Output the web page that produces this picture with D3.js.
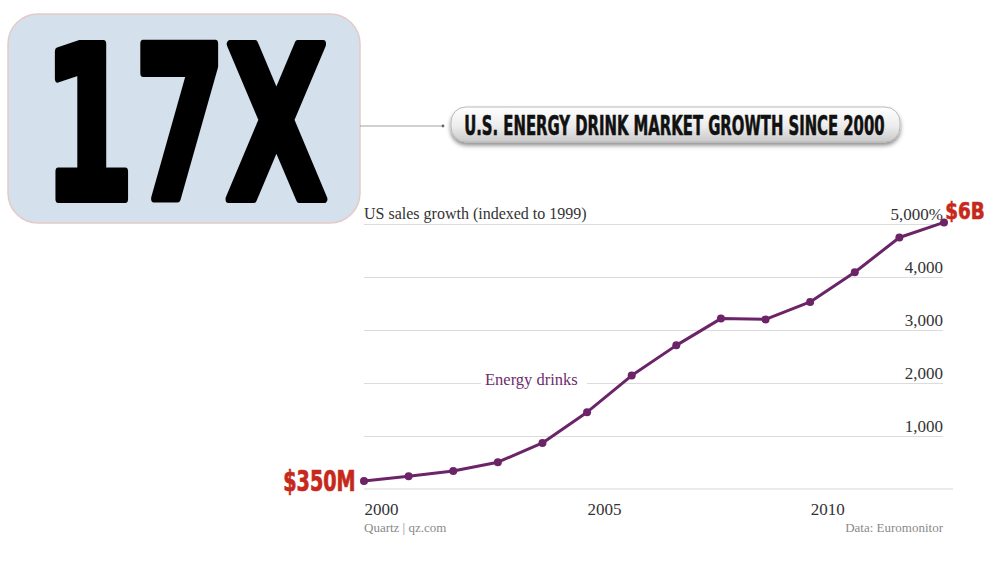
<!DOCTYPE html>
<html>
<head>
<meta charset="utf-8">
<script src="https://cdn.jsdelivr.net/npm/d3@7"></script>
<style>
  html, body { margin: 0; padding: 0; background: #fff; }
  svg { display: block; }
</style>
</head>
<body>
<svg width="1000" height="562"></svg>
<script>
// 数据：能量饮料美国销售增长（1999 = 100 指数）
var years = [2000, 2001, 2002, 2003, 2004, 2005, 2006, 2007, 2008, 2009, 2010, 2011, 2012, 2013];
var growth = [150, 240, 340, 505, 870, 1450, 2140, 2710, 3215, 3200, 3530, 4090, 4745, 5030];
var yTicks = [1000, 2000, 3000, 4000, 5000];
var xTicks = [2000, 2005, 2010];

var points = years.map(function (d, i) {
  return { year: d, value: growth[i] };
});

var serif = "'Liberation Serif', 'DejaVu Serif', serif";
var narrow = "'Liberation Sans Narrow', 'DejaVu Sans Condensed', 'Liberation Sans', sans-serif";
var purple = "#6b2468";
var red = "#c6291c";

var svg = d3.select("svg");

// 把粗体窄字压到指定宽度（用 transform 缩放，不用 textLength）
function fitText(g, str, x0, width, baseline, size, color, strokeW) {
  var t = g.append("text")
    .attr("x", 0).attr("y", 0)
    .attr("font-family", narrow)
    .attr("font-weight", "bold")
    .attr("font-size", size)
    .attr("fill", color)
    .attr("stroke", color)
    .attr("stroke-width", strokeW)
    .attr("stroke-linejoin", "round")
    .text(str);
  var w = t.node().getComputedTextLength() + strokeW;
  var sx = width / w;
  t.attr("transform", "translate(" + (x0 + strokeW / 2 * sx) + "," + baseline + ") scale(" + sx + ",1)");
  return t;
}

var defs = svg.append("defs");
var grad = defs.append("linearGradient")
  .attr("id", "pillGrad")
  .attr("x1", 0).attr("y1", 0).attr("x2", 0).attr("y2", 1);
grad.append("stop").attr("offset", "0%").attr("stop-color", "#ffffff");
grad.append("stop").attr("offset", "55%").attr("stop-color", "#ececec");
grad.append("stop").attr("offset", "100%").attr("stop-color", "#c9c9c9");

var shadow = defs.append("filter").attr("id", "pillShadow")
  .attr("x", "-10%").attr("y", "-30%").attr("width", "120%").attr("height", "180%");
shadow.append("feDropShadow")
  .attr("dx", 0).attr("dy", 3).attr("stdDeviation", 2.2)
  .attr("flood-color", "#000").attr("flood-opacity", 0.45);

// 左上角的 17X 方框
svg.append("rect")
  .attr("x", 8).attr("y", 14)
  .attr("width", 352).attr("height", 209)
  .attr("rx", 30)
  .attr("fill", "#d4e1ed")
  .attr("stroke", "#e6c9c5")
  .attr("stroke-width", 1.5);

fitText(svg, "17X", 40, 290, 198.5, 213, "#000", 8);

// 连接线
svg.append("line")
  .attr("x1", 360).attr("y1", 126)
  .attr("x2", 443).attr("y2", 126)
  .attr("stroke", "#8a8a8a")
  .attr("stroke-width", 0.8);
svg.append("circle")
  .attr("cx", 443).attr("cy", 126).attr("r", 1.4)
  .attr("fill", "#666");

// 标题药丸
svg.append("rect")
  .attr("x", 451).attr("y", 107)
  .attr("width", 449).attr("height", 35)
  .attr("rx", 15)
  .attr("fill", "url(#pillGrad)")
  .attr("stroke", "#b9b9b9")
  .attr("stroke-width", 1)
  .attr("filter", "url(#pillShadow)");

fitText(svg, "U.S. ENERGY DRINK MARKET GROWTH SINCE 2000", 464, 421, 134.5, 26.5, "#111", 0.6);

// 比例尺
var x = d3.scaleLinear().domain([2000, 2013]).range([364, 944]);
var y = d3.scaleLinear().domain([0, 5000]).range([489, 224]);

// 网格线 + y 轴标签
var yAxis = svg.append("g")
  .attr("transform", "translate(943,0)")
  .call(d3.axisLeft(y)
    .tickValues(yTicks)
    .tickSize(943 - 364)
    .tickFormat(function (d) {
      return d3.format(",")(d) + (d === 5000 ? "%" : "");
    }));
yAxis.select(".domain").remove();
yAxis.selectAll(".tick line").attr("stroke", "#dcdcdc").attr("stroke-width", 1);
yAxis.selectAll(".tick text")
  .attr("x", 0)
  .attr("dy", -4.5)
  .attr("text-anchor", "end")
  .attr("font-family", serif)
  .attr("font-size", 17)
  .attr("fill", "#333");

// 基线
svg.append("line")
  .attr("x1", x(2000)).attr("x2", 953)
  .attr("y1", y(0)).attr("y2", y(0))
  .attr("stroke", "#d6d6d6")
  .attr("stroke-width", 1);

// x 轴
var xAxis = svg.append("g")
  .attr("transform", "translate(0," + y(0) + ")")
  .call(d3.axisBottom(x).tickValues(xTicks).tickSize(0).tickFormat(d3.format("d")));
xAxis.select(".domain").remove();
xAxis.selectAll(".tick text")
  .attr("y", 0)
  .attr("dy", 26)
  .attr("text-anchor", "start")
  .attr("font-family", serif)
  .attr("font-size", 17)
  .attr("fill", "#333");

// 图表副标题
svg.append("text")
  .attr("x", 364).attr("y", 219)
  .attr("font-family", serif)
  .attr("font-size", 16)
  .attr("fill", "#333")
  .text("US sales growth (indexed to 1999)");

// 系列标签（带白底遮住网格线）
var lbl = svg.append("g");
lbl.append("rect")
  .attr("x", 481).attr("y", 370)
  .attr("width", 106).attr("height", 20)
  .attr("fill", "#fff");
lbl.append("text")
  .attr("x", 485).attr("y", 385)
  .attr("font-family", serif)
  .attr("font-size", 16.5)
  .attr("fill", "#6e2c6c")
  .text("Energy drinks");

// 折线
var lineGenerator = d3.line()
  .x(function (d) { return x(d.year); })
  .y(function (d) { return y(d.value); });

svg.append("path")
  .datum(points)
  .attr("fill", "none")
  .attr("stroke", purple)
  .attr("stroke-width", 3)
  .attr("stroke-linejoin", "round")
  .attr("d", lineGenerator);

svg.append("g")
  .selectAll("circle")
  .data(points)
  .join("circle")
  .attr("cx", function (d) { return x(d.year); })
  .attr("cy", function (d) { return y(d.value); })
  .attr("r", 4)
  .attr("fill", purple);

// 红色金额标注
fitText(svg, "$350M", 283, 73, 490.5, 28, red, 0.7);
fitText(svg, "$6B", 945, 40, 218.5, 23.5, red, 0.6);

// 页脚
svg.append("text")
  .attr("x", 364).attr("y", 532)
  .attr("font-family", serif)
  .attr("font-size", 13)
  .attr("fill", "#8a8a8a")
  .text("Quartz | qz.com");

svg.append("text")
  .attr("x", 943).attr("y", 532)
  .attr("text-anchor", "end")
  .attr("font-family", serif)
  .attr("font-size", 13)
  .attr("fill", "#8a8a8a")
  .text("Data: Euromonitor");
</script>
</body>
</html>
